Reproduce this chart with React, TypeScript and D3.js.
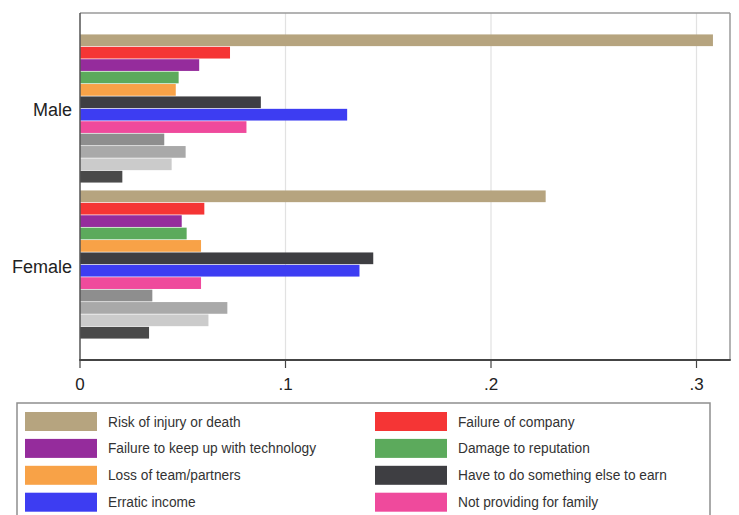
import React from "react";
import * as d3 from "d3";

// Share of respondents citing each concern, by gender
const groups = ["Male", "Female"];
const concerns = [
  "Risk of injury or death",
  "Failure of company",
  "Failure to keep up with technology",
  "Damage to reputation",
  "Loss of team/partners",
  "Have to do something else to earn",
  "Erratic income",
  "Not providing for family",
  "Legal trouble",
  "Health problems",
  "Other",
  "None",
];
const colors = [
  "#b6a47f",
  "#f53535",
  "#952c9c",
  "#5caa5c",
  "#f8a247",
  "#3e3e42",
  "#3d3df2",
  "#ef4a9c",
  "#8e8e8e",
  "#a9a9a9",
  "#cbcbcb",
  "#4a4a4a",
];
const maleValues = [0.308, 0.073, 0.058, 0.048, 0.0466, 0.088, 0.13, 0.081, 0.041, 0.0514, 0.0446, 0.0206];
const femaleValues = [0.2266, 0.0605, 0.0495, 0.0519, 0.0589, 0.1427, 0.136, 0.0589, 0.0352, 0.0717, 0.0625, 0.0336];
const xTicks = [0, 0.1, 0.2, 0.3];
const xTickLabels = ["0", ".1", ".2", ".3"];

const W = 739;
const H = 515;
const plot = { left: 80, right: 730, top: 13, bottom: 360 };

export default function App() {
  const x = d3.scaleLinear().domain([0, 0.3163]).range([plot.left, plot.right]);
  const yGroup = d3
    .scaleBand<string>()
    .domain(groups)
    .range([plot.top, plot.bottom])
    .paddingInner(0)
    .paddingOuter(0.112);
  const yBar = d3
    .scaleBand<number>()
    .domain(d3.range(concerns.length))
    .range([0, yGroup.bandwidth()])
    .paddingInner(0.056)
    .paddingOuter(0.318);

  const valuesByGroup: Record<string, number[]> = { Male: maleValues, Female: femaleValues };

  // legend layout: two columns, rows continue below the visible area
  const lg = { left: 17, top: 403, right: 710, rowStep: 26.9, firstRow: 412 };
  const colX = [25, 375];
  const swW = 72;
  const swH = 19;
  const legendItems = concerns
    .map((c, i) => ({ c, i, top: lg.firstRow + Math.floor(i / 2) * lg.rowStep }))
    .filter((d) => d.top < H);

  return (
    <svg
      width={W}
      height={H}
      style={{ position: "absolute", left: 0, top: 0, background: "#fff" }}
      fontFamily="'Liberation Sans', Arial, sans-serif"
    >
      <rect x={0} y={0} width={W} height={H} fill="#fff" />
      {/* grid */}
      {xTicks.slice(1).map((t) => (
        <line key={t} x1={x(t)} x2={x(t)} y1={plot.top} y2={plot.bottom} stroke="#e2e2e2" strokeWidth={1.2} />
      ))}
      {/* bars */}
      {groups.map((g) =>
        valuesByGroup[g].map((v, i) => (
          <rect
            key={g + i}
            x={x(0)}
            y={(yGroup(g) as number) + (yBar(i) as number)}
            width={x(v) - x(0)}
            height={yBar.bandwidth()}
            fill={colors[i]}
          />
        ))
      )}
      {/* frame */}
      <line x1={plot.left} x2={plot.right} y1={plot.top} y2={plot.top} stroke="#9a9a9a" strokeWidth={1.5} />
      <line x1={plot.right} x2={plot.right} y1={plot.top} y2={plot.bottom} stroke="#9a9a9a" strokeWidth={1.5} />
      <line x1={plot.left} x2={plot.left} y1={plot.top} y2={plot.bottom} stroke="#555" strokeWidth={1.5} />
      <line x1={plot.left - 0.75} x2={plot.right + 0.75} y1={plot.bottom} y2={plot.bottom} stroke="#444" strokeWidth={2} />
      {/* x ticks */}
      {xTicks.map((t, i) => (
        <g key={t}>
          <line x1={x(t)} x2={x(t)} y1={plot.bottom} y2={plot.bottom + 8} stroke="#444" strokeWidth={1.2} />
          <text x={x(t)} y={390} textAnchor="middle" fontSize={17} fill="#222">
            {xTickLabels[i]}
          </text>
        </g>
      ))}
      {/* group labels */}
      {groups.map((g) => (
        <text
          key={g}
          x={plot.left - 8}
          y={(yGroup(g) as number) + yGroup.bandwidth() / 2 + 8}
          textAnchor="end"
          fontSize={18}
          fill="#222"
        >
          {g}
        </text>
      ))}
      {/* legend */}
      <rect
        x={lg.left}
        y={lg.top}
        width={lg.right - lg.left}
        height={H}
        fill="#fff"
        stroke="#8e8e8e"
        strokeWidth={1.5}
      />
      {legendItems.map(({ c, i, top }) => {
        const col = i % 2;
        return (
          <g key={c}>
            <rect x={colX[col]} y={top} width={swW} height={swH} fill={colors[i]} />
            <text
              transform={`translate(${colX[col] + swW + 11},${top + 14.5}) scale(0.915,1)`}
              fontSize={15}
              fill="#333"
            >
              {c}
            </text>
          </g>
        );
      })}
    </svg>
  );
}
